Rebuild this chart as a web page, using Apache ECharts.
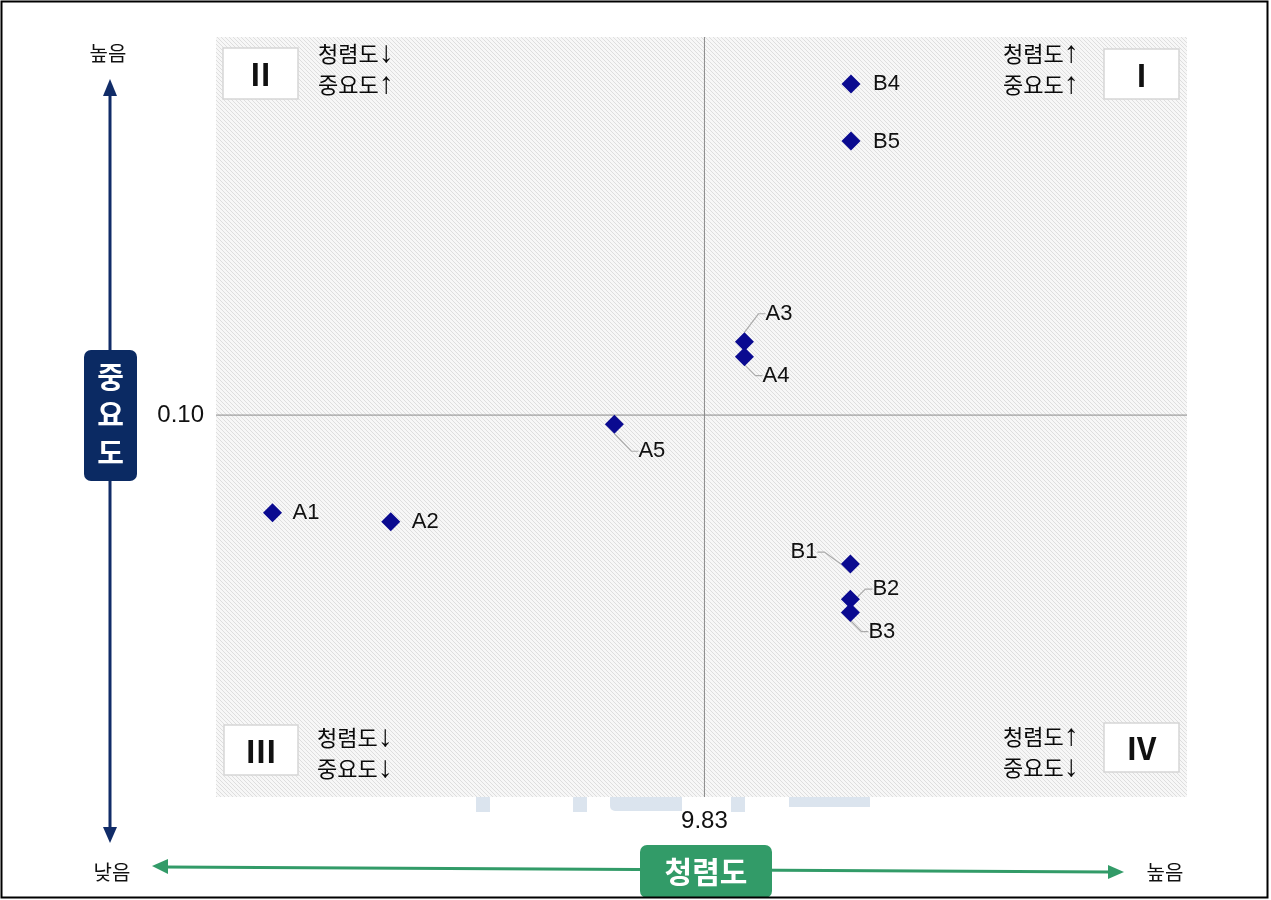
<!DOCTYPE html>
<html><head><meta charset="utf-8">
<script src="https://cdn.jsdelivr.net/npm/echarts@6/dist/echarts.min.js"></script>
<style>html,body{margin:0;padding:0;background:#fff}#c{width:1271px;height:900px}</style>
</head><body><div id="c"></div>
<script>
// ---- data ----
const names   = ['A1', 'A2', 'A3', 'A4', 'A5', 'B1', 'B2', 'B3', 'B4', 'B5'];
const xValues = [9.096, 9.297, 9.898, 9.898, 9.677, 10.078, 10.078, 10.078, 10.079, 10.079];
const yValues = [0.0744, 0.0721, 0.1192, 0.1153, 0.0976, 0.0610, 0.0518, 0.0483, 0.1867, 0.1718];
const xCenter = 9.83;
const yCenter = 0.10;
const xRange = [9.00, 10.65];
const yRange = [0.00, 0.199];
const quadrantNames = ['Ⅰ', 'Ⅱ', 'Ⅲ', 'Ⅳ'];

// ---- label placement (style) ----
const labelOffsets = {
  A1: [20, 0, 'left'], A2: [21, 0, 'left'], A3: [21, -28, 'left'], A4: [18, 19, 'left'],
  A5: [24, 27, 'left'], B1: [-33, -12, 'right'], B2: [22, -10, 'left'], B3: [18, 19, 'left'],
  B4: [22, 0, 'left'], B5: [22, 1, 'left']
};
const guided = ['A3', 'A4', 'A5', 'B1', 'B2', 'B3'];

// hatch pattern
const pc = document.createElement('canvas');
pc.width = 4; pc.height = 4;
const g = pc.getContext('2d');
g.fillStyle = '#f7f7f7'; g.fillRect(0, 0, 4, 4);
g.strokeStyle = '#dedede'; g.lineWidth = 1;
g.beginPath(); g.moveTo(-1, -1); g.lineTo(5, 5); g.stroke();

const KR = '"Noto Sans CJK KR"';
const chart = echarts.init(document.getElementById('c'));

const scatterData = names.map((n, i) => ({
  name: n,
  value: [xValues[i], yValues[i]],
  labelLine: { show: guided.indexOf(n) >= 0 }
}));

function quadText(x, y, a1, a2) {
  return {
    type: 'text', z: 100,
    style: {
      x: x, y: y,
      text: '{k|청렴도}{a|' + a1 + '}\n{k|중요도}{a|' + a2 + '}',
      align: 'left', textAlign: 'left', verticalAlign: 'middle', textVerticalAlign: 'middle',
      rich: {
        k: { font: '22px ' + KR, fill: '#0a0a0a', lineHeight: 31 },
        a: { font: '30px "Liberation Sans"', fill: '#0a0a0a', lineHeight: 31 }
      }
    }
  };
}
function quadBox(x, y, w, h, label) {
  return [
    { type: 'rect', z: 100, shape: { x: x, y: y, width: w, height: h },
      style: { fill: '#fff', stroke: '#d6d6d6', lineWidth: 1.5 } },
    { type: 'text', z: 101,
      style: { x: x + w / 2, y: y + h / 2 + 1, text: label, font: 'bold 31px ' + KR, fill: '#111',
        align: 'center', textAlign: 'center', verticalAlign: 'middle', textVerticalAlign: 'middle' } }
  ];
}
function txt(x, y, s, font, fill, align) {
  return { type: 'text', z: 103,
    style: { x: x, y: y, text: s, font: font, fill: fill, align: align || 'center', textAlign: align || 'center',
      verticalAlign: 'middle', textVerticalAlign: 'middle' } };
}

const navy = '#112c68';
const green = '#329b68';

const graphics = [].concat(
  quadBox(223, 48, 75, 51, quadrantNames[1]),
  quadBox(1104, 49, 75, 50, quadrantNames[0]),
  quadBox(224, 725, 74, 50, quadrantNames[2]),
  quadBox(1104, 723, 75, 49, quadrantNames[3]),
  [
    quadText(318, 69, '↓', '↑'),
    quadText(1003, 69, '↑', '↑'),
    quadText(317, 753, '↓', '↓'),
    quadText(1003, 752, '↑', '↓'),
    // watermark remnants
    { type: 'rect', z: 90, shape: { x: 476, y: 797, width: 14, height: 15 }, style: { fill: '#dbe4ee' } },
    { type: 'rect', z: 90, shape: { x: 573, y: 797, width: 14, height: 15 }, style: { fill: '#dbe4ee' } },
    { type: 'rect', z: 90, shape: { x: 610, y: 797, width: 72, height: 14, r: [0, 0, 0, 5] }, style: { fill: '#dbe4ee' } },
    { type: 'rect', z: 90, shape: { x: 731, y: 797, width: 14, height: 15 }, style: { fill: '#dbe4ee' } },
    { type: 'rect', z: 90, shape: { x: 789, y: 797, width: 81, height: 10 }, style: { fill: '#dbe4ee' } },
    // vertical navy arrow
    { type: 'line', z: 100, shape: { x1: 110, y1: 92, x2: 110, y2: 830 }, style: { stroke: navy, lineWidth: 3 } },
    { type: 'polygon', z: 100, shape: { points: [[110, 79], [103, 96], [117, 96]] }, style: { fill: navy } },
    { type: 'polygon', z: 100, shape: { points: [[110, 843], [103, 827], [117, 827]] }, style: { fill: navy } },
    { type: 'rect', z: 102, shape: { x: 84, y: 350, width: 53, height: 131, r: 7 }, style: { fill: '#0b2a63' } },
    { type: 'text', z: 103,
      style: { x: 110.5, y: 415, text: '중\n요\n도', font: 'bold 29px ' + KR, fill: '#fff', lineHeight: 38,
        align: 'center', textAlign: 'center', verticalAlign: 'middle', textVerticalAlign: 'middle' } },
    // horizontal green arrow
    { type: 'line', z: 100, shape: { x1: 165, y1: 867, x2: 1110, y2: 872 }, style: { stroke: green, lineWidth: 3 } },
    { type: 'polygon', z: 100, shape: { points: [[152, 866], [168, 859], [168, 874]] }, style: { fill: green } },
    { type: 'polygon', z: 100, shape: { points: [[1124, 872], [1108, 865], [1108, 879]] }, style: { fill: green } },
    { type: 'rect', z: 102, shape: { x: 640, y: 845, width: 132, height: 53, r: 7 }, style: { fill: green } },
    txt(706, 872, '청렴도', 'bold 30px ' + KR, '#fff'),
    // end labels
    txt(108, 53, '높음', '20px ' + KR, '#111'),
    txt(112, 872, '낮음', '20px ' + KR, '#111'),
    txt(1165, 872, '높음', '20px ' + KR, '#111'),
    // outer frame
    { type: 'rect', z: 110, shape: { x: 1.5, y: 1.5, width: 1266, height: 896 },
      style: { fill: 'none', stroke: '#000', lineWidth: 2 } }
  ]
);

chart.setOption({
  animation: false,
  backgroundColor: '#fff',
  grid: {
    left: 216, right: 84, top: 37, bottom: 103,
    containLabel: false, outerBoundsMode: 'none',
    show: true, borderWidth: 0,
    backgroundColor: { image: pc, repeat: 'repeat' }
  },
  xAxis: {
    type: 'value', min: xRange[0], max: xRange[1],
    axisLine: { show: false }, axisTick: { show: false }, splitLine: { show: false },
    axisLabel: {
      customValues: [xCenter], margin: 12,
      formatter: v => v.toFixed(2),
      fontSize: 24, color: '#111', fontFamily: 'Liberation Sans'
    }
  },
  yAxis: {
    type: 'value', min: yRange[0], max: yRange[1],
    axisLine: { show: false }, axisTick: { show: false }, splitLine: { show: false },
    axisLabel: {
      customValues: [yCenter], margin: 12,
      formatter: v => v.toFixed(2),
      fontSize: 24, color: '#111', fontFamily: 'Liberation Sans'
    }
  },
  series: [
    {
      type: 'line', z: 1, silent: true, symbol: 'none',
      data: [[xCenter, yRange[0]], [xCenter, yRange[1]]],
      lineStyle: { color: '#8a8a8a', width: 1 }
    },
    {
      type: 'line', z: 1, silent: true, symbol: 'none',
      data: [[xRange[0], yCenter], [xRange[1], yCenter]],
      lineStyle: { color: '#8a8a8a', width: 1 }
    },
    {
      type: 'scatter', z: 3,
      symbol: 'diamond', symbolSize: 19,
      itemStyle: { color: '#0a0a90', opacity: 1 },
      data: scatterData,
      label: {
        show: true, formatter: p => p.name,
        fontSize: 22, color: '#111', fontFamily: 'Liberation Sans'
      },
      labelLine: { show: false, length2: 7, lineStyle: { color: '#aaaaaa', width: 1.2 } },
      labelLayout: function (p) {
        const o = labelOffsets[names[p.dataIndex]];
        const cx = p.rect.x + p.rect.width / 2;
        const cy = p.rect.y + p.rect.height / 2;
        return { x: cx + o[0], y: cy + o[1], align: o[2], verticalAlign: 'middle' };
      }
    }
  ],
  graphic: { elements: graphics }
});
</script>
</body></html>
